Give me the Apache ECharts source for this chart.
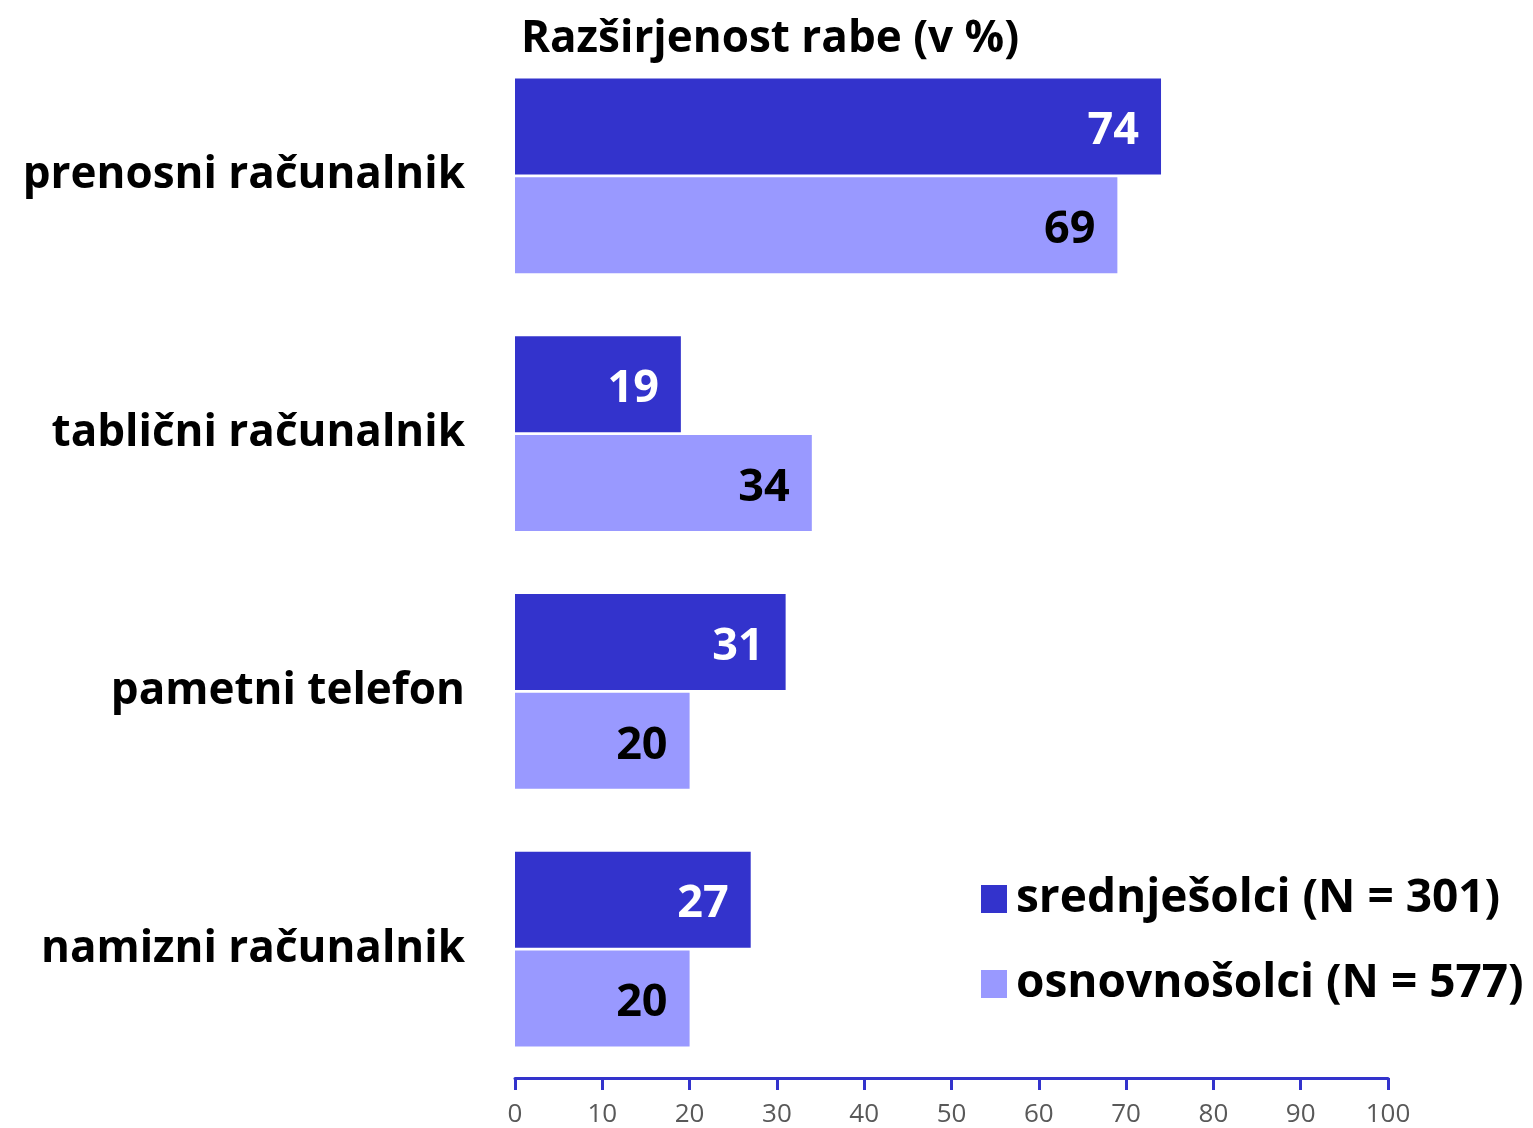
<!DOCTYPE html>
<html>
<head>
<meta charset="utf-8">
<script src="https://cdn.jsdelivr.net/npm/echarts@6/dist/echarts.min.js"></script>
<style>
    html, body { margin: 0; padding: 0; background: #fff; }
    #chart { width: 1533px; height: 1128px; }
</style>
</head>
<body>
<div id="chart"></div>
<script>
    // naprave, od zgoraj navzdol
    var categories = ['prenosni računalnik', 'tablični računalnik', 'pametni telefon', 'namizni računalnik'];
    var seriesNames = ['srednješolci (N = 301)', 'osnovnošolci (N = 577)'];
    var srednjesolci = [74, 19, 31, 27];
    var osnovnosolci = [69, 34, 20, 20];
    var xTicks = [0, 10, 20, 30, 40, 50, 60, 70, 80, 90, 100];

    var font = 'Open Sans';
    var chart = echarts.init(document.getElementById('chart'));
    var option = {
        animation: false,
        title: {
            text: 'Razširjenost rabe (v %)',
            left: 516,
            top: 12,
            textStyle: { fontFamily: font, fontWeight: 'bold', fontSize: 44, color: '#000' }
        },
        legend: {
            orient: 'vertical',
            left: 976,
            top: 871,
            itemWidth: 26,
            itemHeight: 28,
            itemGap: 39,
            icon: 'rect',
            data: seriesNames,
            textStyle: { fontFamily: font, fontWeight: 'bold', fontSize: 46, lineHeight: 46, color: '#000', padding: [0, 0, 0, 4] }
        },
        grid: { left: 515, right: 145, top: 47, bottom: 50 },
        xAxis: {
            type: 'value',
            min: 0,
            max: 100,
            interval: 10,
            axisLine: { show: true, lineStyle: { color: '#3333CC', width: 3 } },
            axisTick: { show: true, length: 12, inside: false, lineStyle: { color: '#3333CC', width: 3 } },
            splitLine: { show: false },
            axisLabel: {
                margin: 24,
                fontFamily: font,
                fontSize: 26,
                color: '#595959',
                formatter: function (v) { return xTicks.indexOf(v) >= 0 ? String(v) : ''; }
            }
        },
        yAxis: {
            type: 'category',
            inverse: true,
            data: categories,
            axisLine: { show: false },
            axisTick: { show: false },
            axisLabel: { margin: 50, padding: [8, 0, 0, 0], fontFamily: font, fontWeight: 'bold', fontSize: 44, color: '#000' }
        },
        series: [{
            name: seriesNames[0],
            type: 'bar',
            data: srednjesolci,
            barWidth: 96,
            barGap: '3%',
            itemStyle: { color: '#3333CC' },
            label: {
                show: true, position: 'insideRight', distance: 22, offset: [0, 5],
                fontFamily: font, fontWeight: 'bold', fontSize: 45, color: '#fff'
            }
        }, {
            name: seriesNames[1],
            type: 'bar',
            data: osnovnosolci,
            barWidth: 96,
            itemStyle: { color: '#9999FF' },
            label: {
                show: true, position: 'insideRight', distance: 22, offset: [0, 5],
                fontFamily: font, fontWeight: 'bold', fontSize: 45, color: '#000'
            }
        }]
    };
    chart.setOption(option);
</script>
</body>
</html>
